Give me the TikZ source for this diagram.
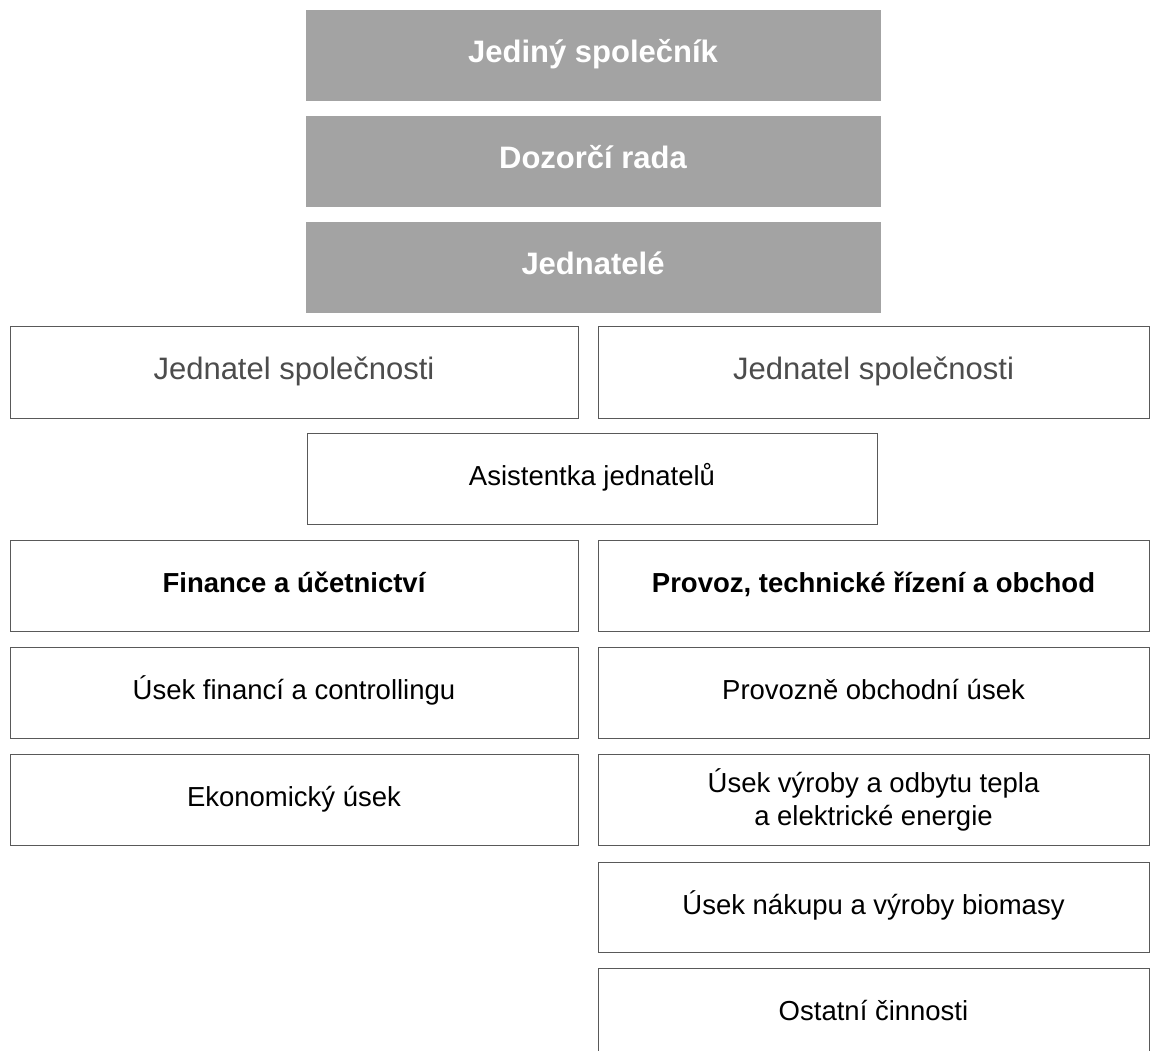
\documentclass[tikz,border=0pt]{standalone}
\usepackage{fontspec}
\setmainfont{Liberation Sans}
\setsansfont{Liberation Sans}
\usepackage{tikz}
\definecolor{boxline}{gray}{0.35}
\definecolor{headfill}{gray}{0.64}
\definecolor{chieftext}{gray}{0.3}

\begin{document}
\begin{tikzpicture}[x=1pt,y=-1pt,
	unit/.style={draw=boxline, line width=1pt, rectangle, inner sep=0pt, align=center,
		text height=20pt, text depth=6pt, font=\fontsize{27.5}{33}\selectfont},
	head/.style={unit, fill=headfill, draw=headfill, text=white,
		minimum width=574pt, minimum height=90pt, font=\fontsize{31}{36}\selectfont\bfseries},
	half/.style={unit, minimum width=568pt, minimum height=91pt},
	halfr/.style={unit, minimum width=551pt, minimum height=91pt}]
	
	\useasboundingbox (0,0) rectangle (1151,1050);
	\clip (0,0) rectangle (1151,1050);
	
	\node[head] (owner) at (593,55) {Jediný společník};
	\node[head] (board) at (593,161.5) {Dozorčí rada};
	\node[head] (mgmt) at (593,267) {Jednatelé};
	
	\node[half, minimum height=92pt, text=chieftext, font=\fontsize{31}{36}\selectfont] (chiefl) at (294,372) {Jednatel společnosti};
	\node[halfr, minimum height=92pt, text=chieftext, font=\fontsize{31}{36}\selectfont] (chiefr) at (873.5,372) {Jednatel společnosti};
	
	\node[unit, minimum width=570pt, minimum height=91pt] (asst) at (592,478.5) {Asistentka jednatelů};
	
	\node[half, font=\fontsize{27.5}{33}\selectfont\bfseries] (fin) at (294,585.5) {Finance a účetnictví};
	\node[halfr, font=\fontsize{27.5}{33}\selectfont\bfseries] (ops) at (873.5,585.5) {Provoz, technické řízení a obchod};
	
	\node[half] (ctrl) at (294,692.5) {Úsek financí a controllingu};
	\node[half] (econ) at (294,799.5) {Ekonomický úsek};
	
	\node[halfr] (trade) at (873.5,692.5) {Provozně obchodní úsek};
	\node[halfr, text height={}, text depth={}] (heat) at (873.5,799.5) {Úsek výroby a odbytu tepla\\a elektrické energie};
	\node[halfr, minimum height=90pt] (bio) at (873.5,907) {Úsek nákupu a výroby biomasy};
	\node[halfr, minimum height=90pt] (other) at (873.5,1013) {Ostatní činnosti};
	
\end{tikzpicture}
\end{document}
